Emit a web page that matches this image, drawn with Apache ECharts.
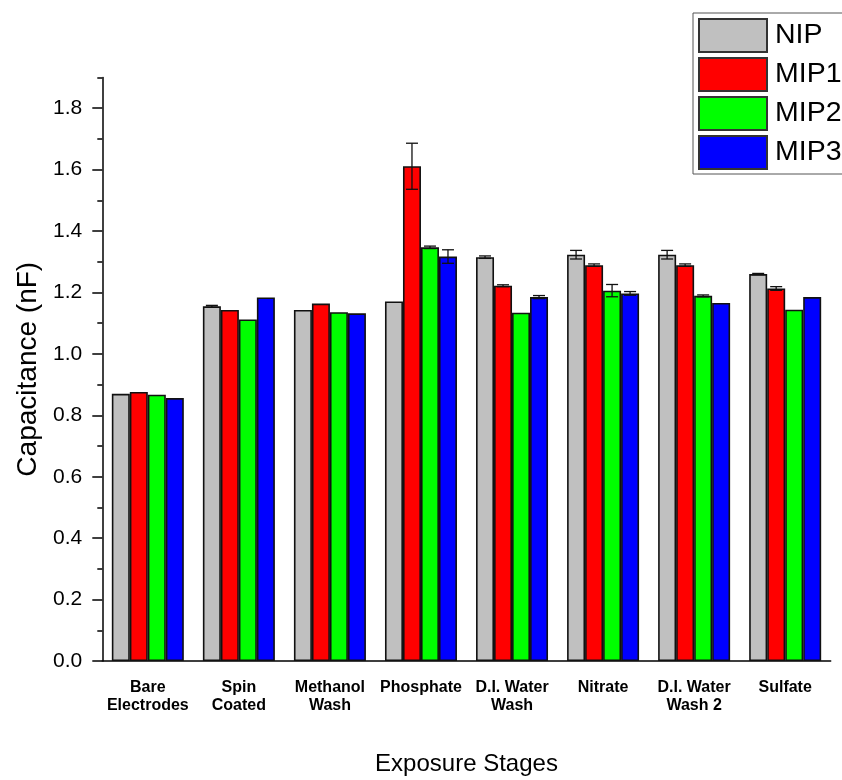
<!DOCTYPE html>
<html><head><meta charset="utf-8">
<script src="https://cdn.jsdelivr.net/npm/echarts@6/dist/echarts.min.js"></script>
<style>html,body{margin:0;padding:0;background:#fff}#c{width:842px;height:780px}</style>
</head><body><div id="c"></div>
<script>
const categories = ['Bare\nElectrodes', 'Spin\nCoated', 'Methanol\nWash', 'Phosphate', 'D.I. Water\nWash', 'Nitrate', 'D.I. Water\nWash 2', 'Sulfate'];
const seriesNames = ['NIP', 'MIP1', 'MIP2', 'MIP3'];
const nipValues  = [0.870, 1.155, 1.143, 1.171, 1.315, 1.323, 1.323, 1.260];
const mip1Values = [0.876, 1.143, 1.164, 1.611, 1.222, 1.289, 1.289, 1.213];
const mip2Values = [0.867, 1.112, 1.136, 1.347, 1.134, 1.206, 1.189, 1.144];
const mip3Values = [0.856, 1.184, 1.132, 1.317, 1.185, 1.197, 1.166, 1.185];
const nipErrors  = [0, 0.003, 0, 0, 0.004, 0.014, 0.014, 0.002];
const mip1Errors = [0, 0, 0, 0.075, 0.003, 0.004, 0.004, 0.006];
const mip2Errors = [0, 0, 0, 0.004, 0, 0.020, 0.003, 0];
const mip3Errors = [0, 0, 0, 0.022, 0.005, 0.006, 0, 0];
const yTickValues = [0, 0.2, 0.4, 0.6, 0.8, 1.0, 1.2, 1.4, 1.6, 1.8];

const valuesList = [nipValues, mip1Values, mip2Values, mip3Values];
const errorsList = [nipErrors, mip1Errors, mip2Errors, mip3Errors];
const colors = ['#c0c0c0', '#ff0000', '#00ff00', '#0000ff'];
const BAR_W = 18;
const FONT = '"Liberation Sans", Arial, sans-serif';

const chart = echarts.init(document.getElementById('c'), null, {renderer: 'canvas'});

const barSeries = seriesNames.map((name, i) => ({
  name: name,
  type: 'bar',
  data: valuesList[i],
  barWidth: BAR_W,
  barGap: '0%',
  itemStyle: {color: colors[i], borderColor: '#111', borderWidth: 1.6},
  z: 2
}));

const errSeries = seriesNames.map((name, si) => ({
  name: name + ' err',
  type: 'custom',
  data: valuesList[si].map((v, k) => [k, v, errorsList[si][k]]),
  z: 5,
  silent: true,
  renderItem: function (params, api) {
    const idx = api.value(0), v = api.value(1), e = api.value(2);
    if (!e) return null;
    const top = api.coord([idx, v + e]);
    const bot = api.coord([idx, v - e]);
    const x = top[0] + (si - 1.5) * BAR_W;
    const cap = 6;
    const st = {stroke: '#111', lineWidth: 1.3};
    return {type: 'group', children: [
      {type: 'line', shape: {x1: x, y1: top[1], x2: x, y2: bot[1]}, style: st},
      {type: 'line', shape: {x1: x - cap, y1: top[1], x2: x + cap, y2: top[1]}, style: st},
      {type: 'line', shape: {x1: x - cap, y1: bot[1], x2: x + cap, y2: bot[1]}, style: st}
    ]};
  }
}));

const axisLineStyle = {color: '#000', width: 1.5};

chart.setOption({
  animation: false,
  textStyle: {fontFamily: FONT},
  grid: {left: 102.3, right: 11.3, top: 77.5, bottom: 119, containLabel: false, outerBoundsMode: 'none'},
  legend: {
    data: seriesNames,
    orient: 'vertical',
    left: 693, top: 13,
    itemWidth: 68, itemHeight: 33, itemGap: 4,
    padding: [5, 60, 4, 5],
    borderColor: '#555', borderWidth: 1,
    selectedMode: false,
    icon: 'rect',
    itemStyle: {borderColor: '#333', borderWidth: 2},
    textStyle: {fontSize: 28.5, color: '#000', fontFamily: FONT, padding: [0, 0, 0, 3]}
  },
  xAxis: [{
    type: 'category',
    data: categories,
    position: 'bottom',
    axisLine: {lineStyle: axisLineStyle},
    axisTick: {alignWithLabel: true, length: 11, lineStyle: axisLineStyle},
    axisLabel: {interval: 0, fontSize: 16, fontWeight: 'bold', color: '#000', margin: 18, lineHeight: 18, fontFamily: FONT},
    name: 'Exposure Stages',
    nameLocation: 'middle',
    nameGap: 91,
    nameTextStyle: {fontSize: 24, color: '#000', fontFamily: FONT}
  }, {
    type: 'category',
    data: categories,
    position: 'bottom',
    axisLine: {show: false},
    axisTick: {length: 5, lineStyle: axisLineStyle},
    axisLabel: {show: false}
  }],
  yAxis: [{
    type: 'value',
    min: 0, max: 1.9,
    position: 'left',
    axisLine: {show: true, lineStyle: axisLineStyle},
    axisTick: {show: true, length: 10, customValues: yTickValues, lineStyle: axisLineStyle},
    axisLabel: {customValues: yTickValues, formatter: v => v.toFixed(1), fontSize: 21, color: '#000', margin: 20, fontFamily: FONT},
    splitLine: {show: false},
    name: 'Capacitance (nF)',
    nameLocation: 'middle',
    nameGap: 60,
    nameTextStyle: {fontSize: 28, color: '#000', fontFamily: FONT}
  }, {
    type: 'value',
    min: 0, max: 1.9, interval: 0.1,
    position: 'left',
    axisLine: {show: false},
    axisTick: {show: true, length: 5, lineStyle: axisLineStyle},
    axisLabel: {show: false},
    splitLine: {show: false}
  }],
  series: barSeries.concat(errSeries)
});
</script>
</body></html>
